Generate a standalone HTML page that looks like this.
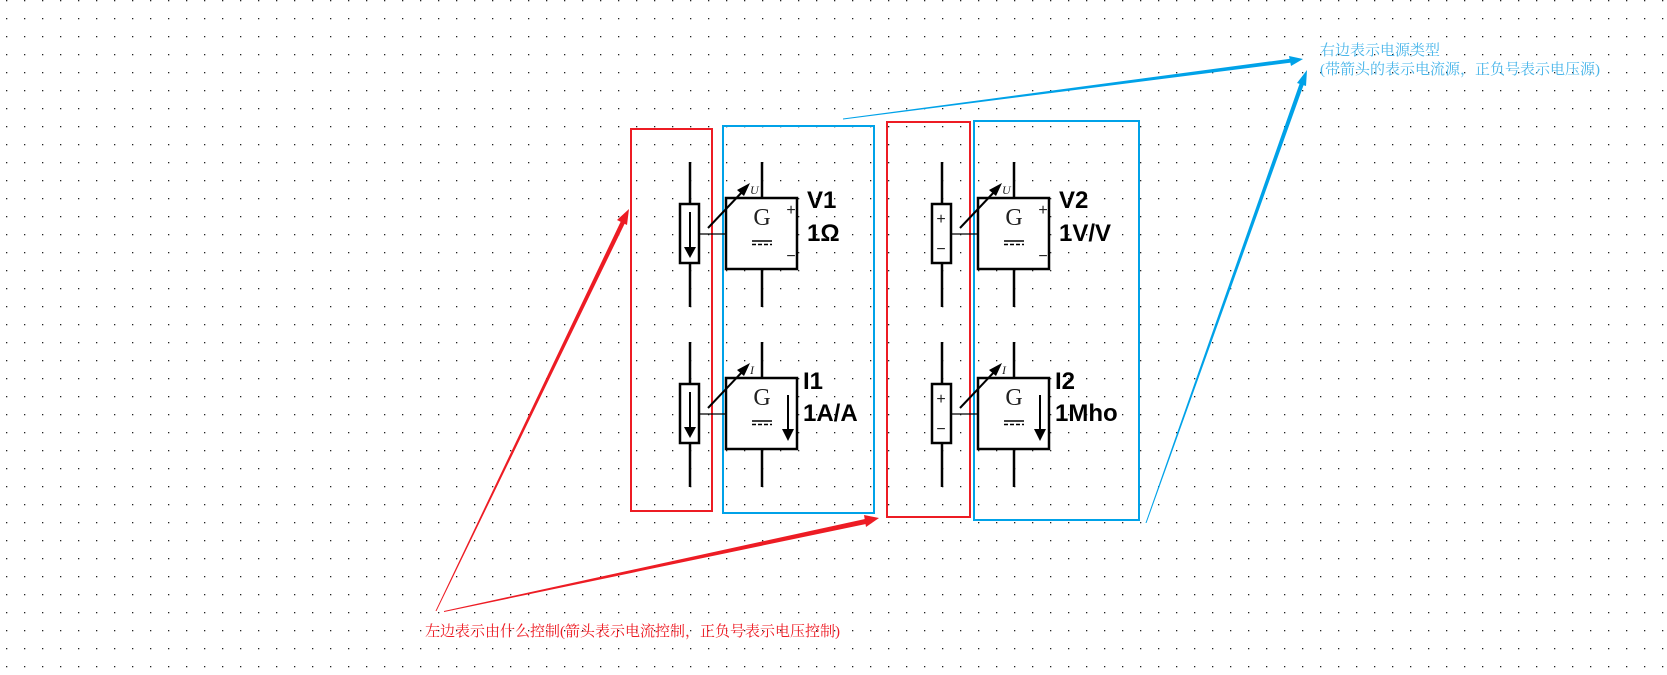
<!DOCTYPE html>
<html><head><meta charset="utf-8"><style>
html,body{margin:0;padding:0;background:#fff;}
svg{display:block;}
.lbl{font-family:"Liberation Sans",sans-serif;font-weight:bold;font-size:24px;fill:#000;}
.g{font-family:"Liberation Serif",serif;font-size:24px;fill:#222;}
.pm{font-family:"Liberation Sans",sans-serif;font-size:16px;fill:#222;}
.it{font-family:"Liberation Serif",serif;font-style:italic;font-size:12px;fill:#222;}
.cj{font-family:"Liberation Serif","Noto Serif CJK SC",serif;font-size:15px;}
</style></head><body>
<svg width="1667" height="675" xmlns="http://www.w3.org/2000/svg">
<defs>
<pattern id="dots" x="6" y="0" width="18" height="18" patternUnits="userSpaceOnUse">
<rect x="0" y="0" width="1.3" height="1.3" fill="#222"/>
</pattern>
<g id="ctlI">
<line x1="0" y1="0" x2="0" y2="42" stroke="#000" stroke-width="2.5"/>
<line x1="0" y1="101" x2="0" y2="145" stroke="#000" stroke-width="2.5"/>
<rect x="-10" y="42" width="19" height="59" fill="#fff" stroke="#000" stroke-width="2.5"/>
<line x1="0" y1="50" x2="0" y2="86" stroke="#000" stroke-width="2"/>
<polygon points="-6,85 6,85 0,96" fill="#000"/>
</g>
<g id="ctlV">
<line x1="0" y1="0" x2="0" y2="42" stroke="#000" stroke-width="2.5"/>
<line x1="0" y1="101" x2="0" y2="145" stroke="#000" stroke-width="2.5"/>
<rect x="-10" y="42" width="19" height="59" fill="#fff" stroke="#000" stroke-width="2.5"/>
<text x="-1" y="62" class="pm" text-anchor="middle">+</text>
<text x="-1" y="92" class="pm" text-anchor="middle">−</text>
</g>
<g id="src">
<line x1="36" y1="0" x2="36" y2="36" stroke="#000" stroke-width="2.5"/>
<line x1="36" y1="107" x2="36" y2="145" stroke="#000" stroke-width="2.5"/>
<rect x="0" y="36" width="71" height="71" fill="#fff" stroke="#000" stroke-width="2.5"/>
<text x="36" y="63" class="g" text-anchor="middle">G</text>
<line x1="26" y1="79" x2="46" y2="79" stroke="#000" stroke-width="1.5"/>
<line x1="26" y1="82.5" x2="46" y2="82.5" stroke="#000" stroke-width="1.5" stroke-dasharray="4,2"/>
<line x1="-27" y1="72" x2="0" y2="72" stroke="#000" stroke-width="1.3"/>
<line x1="-18" y1="66" x2="18" y2="28" stroke="#000" stroke-width="2"/>
<polygon points="24,21 11,28 18,34" fill="#000"/>
</g>
</defs>
<rect width="1667" height="675" fill="url(#dots)"/>

<rect x="631" y="129" width="81" height="382" fill="none" stroke="#ed1c24" stroke-width="2"/>
<rect x="723" y="126" width="151" height="387" fill="none" stroke="#00a2e8" stroke-width="2"/>
<rect x="887" y="122" width="83" height="395" fill="none" stroke="#ed1c24" stroke-width="2"/>
<rect x="974" y="121" width="165" height="399" fill="none" stroke="#00a2e8" stroke-width="2"/>

<use href="#ctlI" x="690" y="162"/>
<use href="#ctlI" x="690" y="342"/>
<g transform="translate(726,162)"><use href="#src"/>
<text x="65" y="53" class="pm" text-anchor="middle">+</text><text x="65" y="99" class="pm" text-anchor="middle">−</text>
<text x="24" y="32" class="it">U</text></g>
<g transform="translate(726,342)"><use href="#src"/>
<line x1="62" y1="53" x2="62" y2="88" stroke="#000" stroke-width="2"/><polygon points="56,87 68,87 62,99" fill="#000"/>
<text x="24" y="32" class="it">I</text></g>
<text x="807" y="208" class="lbl">V1</text>
<text x="807" y="241" class="lbl">1Ω</text>
<text x="803" y="389" class="lbl">I1</text>
<text x="803" y="421" class="lbl">1A/A</text>

<use href="#ctlV" x="942" y="162"/>
<use href="#ctlV" x="942" y="342"/>
<g transform="translate(978,162)"><use href="#src"/>
<text x="65" y="53" class="pm" text-anchor="middle">+</text><text x="65" y="99" class="pm" text-anchor="middle">−</text>
<text x="24" y="32" class="it">U</text></g>
<g transform="translate(978,342)"><use href="#src"/>
<line x1="62" y1="53" x2="62" y2="88" stroke="#000" stroke-width="2"/><polygon points="56,87 68,87 62,99" fill="#000"/>
<text x="24" y="32" class="it">I</text></g>
<text x="1059" y="208" class="lbl">V2</text>
<text x="1059" y="241" class="lbl">1V/V</text>
<text x="1055" y="389" class="lbl">I2</text>
<text x="1055" y="421" class="lbl">1Mho</text>

<polygon points="843,118.5 843,119.5 1292,62.5 1292,58.5" fill="#00a2e8"/>
<polygon points="1289,56 1303,59 1291,66" fill="#00a2e8"/>
<polygon points="1145.5,523 1146.5,523 1304,84 1300,82.5" fill="#00a2e8"/>
<polygon points="1307,70 1297,83 1306,86" fill="#00a2e8"/>
<polygon points="435.5,611 436.5,611 625,223 621,221" fill="#ed1c24"/>
<polygon points="629,209 617,220 627,225" fill="#ed1c24"/>
<polygon points="444,611 444,612 866,524 865,519" fill="#ed1c24"/>
<polygon points="879,518 864,515 866,527" fill="#ed1c24"/>

<text x="1320" y="55" class="cj" fill="#4ab6ea">右边表示电源类型</text>
<text x="1320" y="74" class="cj" fill="#4ab6ea">(带箭头的表示电流源，正负号表示电压源)</text>
<text x="425" y="636" class="cj" fill="#ed1c24">左边表示由什么控制(箭头表示电流控制，正负号表示电压控制)</text>
</svg>
</body></html>
